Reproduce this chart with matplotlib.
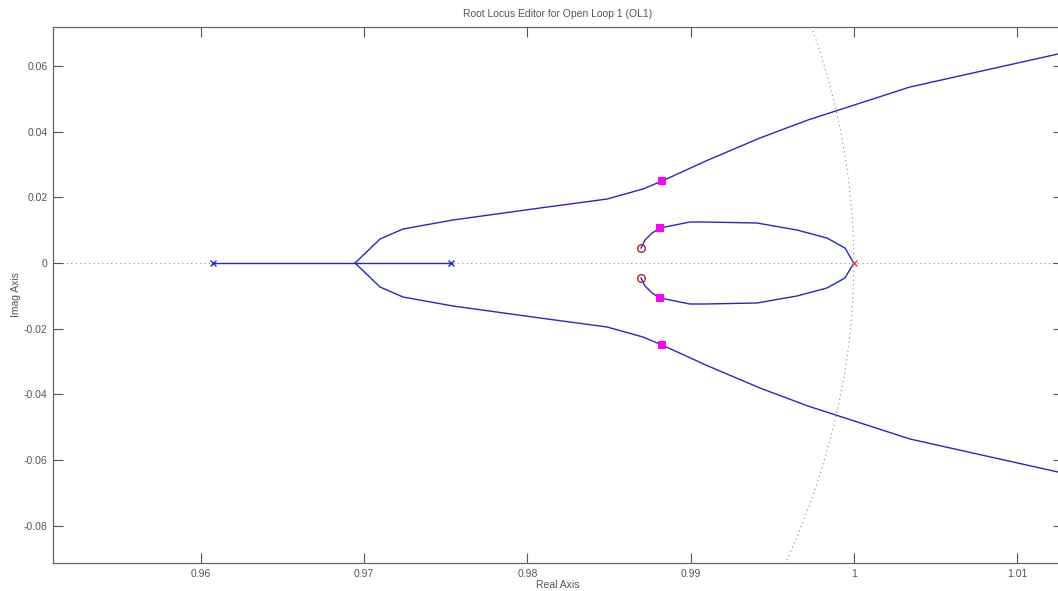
import numpy as np
import matplotlib
matplotlib.use("Agg")
from matplotlib import pyplot as plt

# poles / zeros
plant_poles_re = [0.96074, 0.97532]
comp_pole_re = [1.0]
zeros_re = [0.98696, 0.98696]
zeros_im = [0.00457, -0.00457]

# real-axis segment between the two plant poles
seg_re = [0.96074, 0.97532]
seg_im = [0.0, 0.0]

# outer branches (leave the breakaway point at 0.9694)
outer_re = [0.96944, 0.97097, 0.97238, 0.97544, 0.98077, 0.98488, 0.98708,
            0.98825, 0.99107, 0.99425, 0.99719, 1.00344, 1.01251, 1.0130]
outer_up = [0.0, 0.00731, 0.01036, 0.01310, 0.01675, 0.01949, 0.02254,
            0.02498, 0.03137, 0.03808, 0.04356, 0.05361, 0.06366, 0.0639]
outer_dn = [0.0, -0.00731, -0.01036, -0.01310, -0.01675, -0.01949, -0.02254,
            -0.02498, -0.03137, -0.03808, -0.04356, -0.05361, -0.06366, -0.0639]

# inner loop from the zeros to the pole at 1
inner_re = [0.98696, 0.98721, 0.98764, 0.98813, 0.98996, 0.99088, 0.99407,
            0.99652, 0.99836, 0.99946, 1.0]
inner_up = [0.00457, 0.00701, 0.00914, 0.01066, 0.01249, 0.01249, 0.01218,
            0.01005, 0.00761, 0.00457, 0.0]
inner_dn = [-0.00457, -0.00701, -0.00914, -0.01066, -0.01249, -0.01249, -0.01218,
            -0.01005, -0.00761, -0.00457, 0.0]

# closed loop poles (magenta squares)
cl_re = [0.98825, 0.98825, 0.98813, 0.98813]
cl_im = [0.02498, -0.02498, 0.01066, -0.01066]

xticks = [0.96, 0.97, 0.98, 0.99, 1.0, 1.01]
xticklabels = ["0.96", "0.97", "0.98", "0.99", "1", "1.01"]
yticks = [-0.08, -0.06, -0.04, -0.02, 0.0, 0.02, 0.04, 0.06]
yticklabels = ["-0.08", "-0.06", "-0.04", "-0.02", "0", "0.02", "0.04", "0.06"]

plt.rcParams['font.family'] = ['Liberation Sans', 'DejaVu Sans']
grey = "#555555"
blue = "#2626c8"

fig = plt.figure(figsize=(10.58, 5.91), dpi=100)
ax = fig.add_axes([0.0501, 0.0474, 0.9546, 0.9069])

# real axis and unit circle (stability boundary)
ax.axhline(0, color="#888888", ls=(0, (1, 3)), lw=0.8, zorder=1)
th = np.linspace(-0.2, 0.2, 400)
ax.plot(np.cos(th), np.sin(th), color="#888888", ls=(0, (1, 3)), lw=0.8, zorder=1)

# locus branches
ax.plot(seg_re, seg_im, color=blue, lw=1.0, zorder=2)
ax.plot(outer_re, outer_up, color=blue, lw=1.0, zorder=2)
ax.plot(outer_re, outer_dn, color=blue, lw=1.0, zorder=2)
ax.plot(inner_re, inner_up, color=blue, lw=1.0, zorder=2)
ax.plot(inner_re, inner_dn, color=blue, lw=1.0, zorder=2)

# poles and zeros
ax.plot(plant_poles_re, [0, 0], ls="none", marker="x", ms=4.5, mew=1.0, color=blue, zorder=3)
ax.plot(comp_pole_re, [0], ls="none", marker="x", ms=5, mew=1.0, color="#e05050", zorder=3)
ax.plot(zeros_re, zeros_im, ls="none", marker="o", ms=5.5, mew=1.0, mfc="none",
        mec="#c02020", zorder=3)
ax.plot(cl_re, cl_im, ls="none", marker="s", ms=5.5, mew=0, color="#ff00ff", zorder=4)

ax.set_xlim(0.95093, 1.01282)
ax.set_ylim(-0.09138, 0.07189)
ax.set_xticks(xticks)
ax.set_xticklabels(xticklabels)
ax.set_yticks(yticks)
ax.set_yticklabels(yticklabels)
ax.tick_params(direction="in", length=7, width=0.8, colors=grey, labelsize=7.5,
               top=True, right=True, pad=4)
for s in ax.spines.values():
    s.set_color("#666666")
    s.set_linewidth(0.9)

ax.set_title("Root Locus Editor for Open Loop 1 (OL1)", fontsize=7.5, color=grey, pad=7)
ax.set_xlabel("Real Axis", fontsize=7.5, color=grey, labelpad=1)
ax.set_ylabel("Imag Axis", fontsize=7.5, color=grey, labelpad=2)

fig.savefig("out.png", dpi=100)
